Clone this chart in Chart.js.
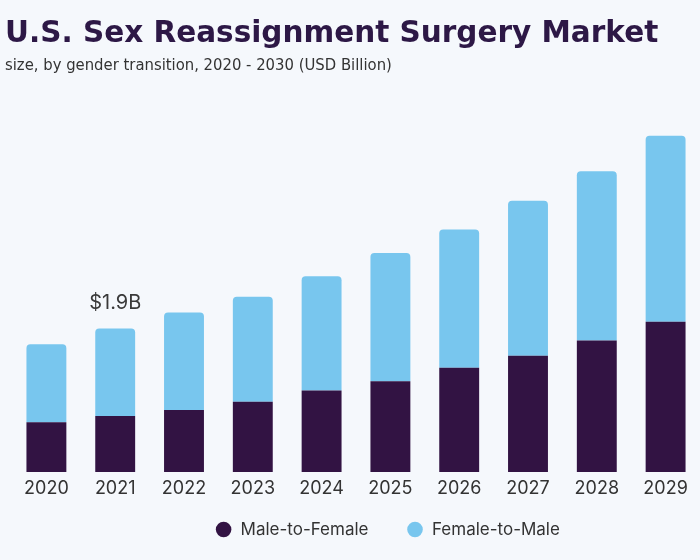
<!DOCTYPE html>
<html>
<head>
<meta charset="utf-8">
<script src="https://cdn.jsdelivr.net/npm/chart.js@4.4.0/dist/chart.umd.min.js"></script>
<style>
  html, body { margin: 0; padding: 0; background: #f5f8fc; }
  #wrap { width: 700px; height: 560px; }
</style>
</head>
<body>
<div id="wrap"><canvas id="chartMercado" width="700" height="560"></canvas></div>
<script>
/* datos (USD Billion) */
const anios = ["2020", "2021", "2022", "2023", "2024", "2025", "2026", "2027", "2028", "2029"];
const maleToFemale = [0.66, 0.74, 0.82, 0.93, 1.08, 1.20, 1.38, 1.54, 1.74, 1.99];
const femaleToMale = [1.03, 1.16, 1.29, 1.39, 1.51, 1.70, 1.83, 2.05, 2.24, 2.46];
const etiquetaIndice = 1;
const etiquetaTexto = "$1.9B";

const colorOscuro = "#321343";
const colorClaro = "#78c6ee";

/* plugin para el texto $1.9B encima de la barra */
const etiquetaTotal = {
  id: "etiquetaTotal",
  afterDatasetsDraw(chart) {
    const { ctx, scales } = chart;
    const total = maleToFemale[etiquetaIndice] + femaleToMale[etiquetaIndice];
    const x = scales.x.getPixelForValue(etiquetaIndice);
    const y = scales.y.getPixelForValue(total);
    ctx.save();
    ctx.font = "20px Inter";
    ctx.fillStyle = "#3a3a3a";
    ctx.textAlign = "center";
    ctx.textBaseline = "bottom";
    ctx.fillText(etiquetaTexto, x, y - 15);
    ctx.restore();
  },
};

/* mover la leyenda un poco (esta corrida a la derecha en el original) */
const moverLeyenda = {
  id: "moverLeyenda",
  afterLayout(chart) {
    const leyenda = chart.legend;
    leyenda.left += 35;
    leyenda.right += 35;
    leyenda.top -= 12;
    leyenda.bottom -= 12;
  },
};

const context = document.getElementById("chartMercado").getContext("2d");

const chartMercado = new Chart(context, {
  type: "bar",
  data: {
    labels: anios,
    datasets: [
      {
        label: "Male-to-Female",
        data: maleToFemale,
        backgroundColor: colorOscuro,
        borderSkipped: false,
        borderRadius: 0,
      },
      {
        label: "Female-to-Male",
        data: femaleToMale,
        backgroundColor: colorClaro,
        borderSkipped: false,
        borderRadius: { topLeft: 4, topRight: 4, bottomLeft: 0, bottomRight: 0 },
      },
    ],
  },
  options: {
    responsive: false,
    animation: false,
    layout: { padding: { left: 5, right: 0, top: 0, bottom: 0 } },
    datasets: {
      bar: { barPercentage: 0.58, categoryPercentage: 1 },
    },
    scales: {
      x: {
        stacked: true,
        grid: { display: false, drawTicks: false },
        border: { display: false },
        ticks: { color: "#333", font: { family: "Inter", size: 18 }, padding: 6 },
        afterFit: (escala) => { escala.height = 23; },
      },
      y: {
        stacked: true,
        min: 0,
        max: 5,
        grid: { display: false, drawTicks: false },
        border: { display: false },
        ticks: { display: false },
        afterFit: (escala) => { escala.width = 7; },
      },
    },
    plugins: {
      title: {
        display: true,
        text: "U.S. Sex Reassignment Surgery Market",
        align: "start",
        color: "#2d1846",
        font: { family: "DejaVu Sans", size: 29.5, weight: "bold" },
        padding: { top: 17, bottom: 0 },
      },
      subtitle: {
        display: true,
        text: "size, by gender transition, 2020 - 2030 (USD Billion)",
        align: "start",
        color: "#333",
        font: { family: "'DejaVu Sans Condensed', 'Liberation Sans Narrow', Lato, sans-serif", size: 16.5 },
        padding: { top: 3, bottom: 19 },
      },
      legend: {
        position: "bottom",
        labels: {
          usePointStyle: true,
          pointStyle: "circle",
          boxWidth: 17,
          boxHeight: 11,
          padding: 38,
          color: "#333",
          font: { family: "Inter", size: 17 },
        },
      },
      tooltip: { enabled: false },
    },
  },
  plugins: [etiquetaTotal, moverLeyenda],
});
</script>
</body>
</html>
